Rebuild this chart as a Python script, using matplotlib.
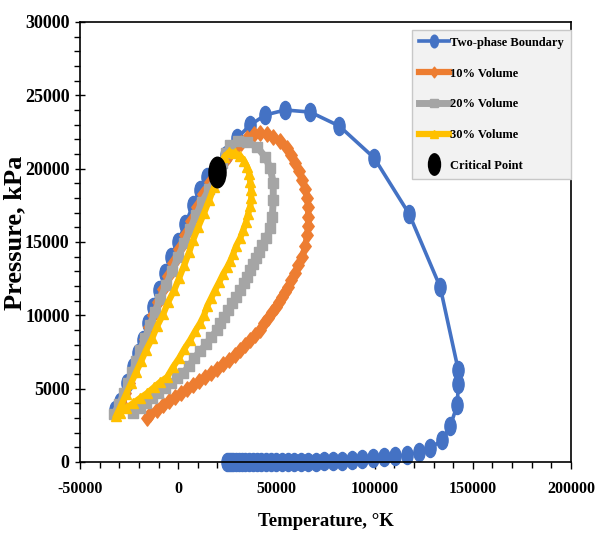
import matplotlib
matplotlib.use("Agg")
import matplotlib.pyplot as plt
from matplotlib.path import Path
from matplotlib.transforms import Affine2D
from matplotlib.ticker import MultipleLocator

plt.rcParams['font.family'] = ['Liberation Serif', 'DejaVu Serif']
plt.rcParams['font.weight'] = 'bold'
plt.rcParams['axes.unicode_minus'] = False

# ---- data (Temperature, Pressure) ----
boundary_T = [-32100, -29500, -26000, -22900, -20400, -17800, -15300, -12700, -9700, -6600,
              -3600, 0, 3600, 7600, 11200, 14800, 19900, 24400, 30000, 36700, 44300, 54500,
              67200, 82000, 99800, 117600, 133400, 142600, 142600, 142100, 138500, 134400,
              128300, 122700, 116600, 110500, 104900, 99300, 93700, 88600, 83500, 78900,
              74300, 70300, 66200, 62600, 59100, 56000, 53000, 49900, 47400, 44800, 42300,
              40200, 38200, 36200, 34100, 32600, 31100, 29500, 28000, 27000, 26000, 25000]
boundary_P = [3550, 4090, 5390, 6480, 7430, 8320, 9480, 10570, 11730, 12890,
              13980, 15000, 16230, 17520, 18550, 19430, 20040, 20930, 22090, 22980, 23660, 24000,
              23860, 22910, 20730, 16910, 11930, 6270, 5320, 3890, 2450, 1500,
              950, 680, 480, 400, 320, 250, 190, 140, 100, 70,
              50, 30, 20, 10, 0, 0, 0, 0, 0, 0, 0,
              0, 0, 0, 0, 0, 0, 0, 0, 0, 0, 0]

vol10_T = [-31100, -29000, -27000, -25000, -22900, -20900, -18800, -16800, -14800, -12700,
           -10200, -7600, -5100, -2600, 500, 3600, 6600, 9700, 12700, 16300, 20400, 24400,
           28500, 32100, 35100, 38700, 41800, 45300, 48400, 52000, 55500, 57500, 59600,
           61600, 63100, 64700, 65700, 66200, 66200, 66200, 65700, 64700, 63100, 61100,
           59600, 57500, 56000, 54500, 53000, 51400, 49900, 47900, 45800, 43800, 41800,
           39200, 36700, 34100, 31600, 29000, 26000, 22900, 19900, 16800, 13800, 10700,
           7600, 4600, 1500, -1500, -4600, -7600, -10700, -14300, -15800]
vol10_P = [3410, 4020, 4700, 5390, 6140, 6890, 7640, 8390, 9200, 10020,
           10910, 11800, 12680, 13570, 14520, 15480, 16430, 17390, 18270, 19090, 19910, 20660,
           21270, 21750, 22090, 22360, 22430, 22360, 22160, 21890, 21430, 20930, 20390,
           19840, 19230, 18610, 18000, 17390, 16700, 16090, 15480, 14730, 13980, 13430,
           12890, 12410, 11930, 11590, 11250, 10910, 10570, 10230, 9820, 9480, 9000,
           8660, 8320, 7980, 7640, 7300, 6950, 6680, 6340, 6070, 5800, 5520,
           5250, 4980, 4700, 4430, 4160, 3890, 3550, 3270, 3000]

vol20_T = [-32600, -30000, -27500, -25500, -23400, -21400, -19400, -16800, -14300, -11700,
           -9200, -6100, -3100, 0, 3100, 6100, 9200, 12200, 15800, 19400, 22400, 24400,
           26500, 30600, 35100, 40200, 44300, 46900, 48400, 48400, 47900, 46900, 44800,
           42800, 41300, 39700, 38200, 36700, 35100, 33600, 31600, 29500, 27500, 25500,
           23400, 21400, 19900, 16800, 14300, 11200, 8200, 5600, 2600, -500, -3600,
           -6600, -10200, -13200, -16300, -19400, -22900]
vol20_P = [3270, 3950, 4700, 5390, 6140, 6890, 7640, 8450, 9340, 10230,
           11110, 12070, 13020, 13980, 14930, 15890, 16840, 17730, 18610, 19430, 20390, 21070,
           21610, 21890, 21820, 21480, 20790, 20040, 19020, 17860, 16700, 15950, 15270,
           14800, 14320, 13910, 13500, 13090, 12610, 12200, 11730, 11250, 10840, 10360,
           9890, 9480, 9000, 8520, 8050, 7570, 7090, 6550, 6070, 5730, 5390,
           5050, 4700, 4360, 4020, 3680, 3340]

vol30_T = [-31600, -29000, -26500, -23900, -21400, -18800, -16300, -13200, -10700, -7600,
           -5100, -2000, 500, 3100, 5600, 7600, 10200, 13200, 15800, 18300, 19900, 21400,
           23400, 26000, 29000, 31600, 33600, 35100, 36200, 36700, 37200, 37200, 36700,
           35600, 34600, 33100, 31600, 29500, 28000, 26500, 25000, 22900, 20900, 18800,
           16800, 14800, 13200, 11200, 8700, 6100, 3100, 500, -2600, -5600, -9200,
           -12200, -15800, -19400, -22900, -26500, -29500]
vol30_P = [3140, 3890, 4640, 5390, 6140, 6890, 7640, 8450, 9270, 10090,
           10910, 11730, 12550, 13430, 14320, 15140, 16020, 16980, 17860, 18750, 19570, 20250,
           20800, 21140, 21070, 20860, 20520, 20110, 19640, 19090, 18540, 18000, 17450,
           16910, 16360, 15820, 15270, 14730, 14180, 13700, 13300, 12820, 12270, 11730,
           11180, 10640, 10020, 9480, 8930, 8320, 7700, 7090, 6480, 5800, 5450,
           5110, 4700, 4360, 4020, 3680, 3340]

critical_T = [20000]
critical_P = [19800]

series_labels = ['Two-phase Boundary', '10% Volume', '20% Volume', '30% Volume', 'Critical Point']
x_ticks = [-50000, 0, 50000, 100000, 150000, 200000]
y_ticks = [0, 5000, 10000, 15000, 20000, 25000, 30000]

# ---- styling ----
c_blue, c_orange, c_gray, c_yellow = '#4472C4', '#ED7D31', '#A5A5A5', '#FFC000'

def squeezed(path, sx):
    return path.transformed(Affine2D().scale(sx, 1.0))

ellipse = squeezed(Path.unit_circle(), 0.62)
crit_ellipse = squeezed(Path.unit_circle(), 0.56)
diamond = Path([(0, -1), (0.75, 0), (0, 1), (-0.75, 0), (0, -1)],
               [Path.MOVETO, Path.LINETO, Path.LINETO, Path.LINETO, Path.CLOSEPOLY])

fig = plt.figure(figsize=(5.95, 5.41), dpi=100)
ax = fig.add_axes([80 / 595, 1 - 462 / 541, (571 - 80) / 595, (462 - 22) / 541])

ax.plot(boundary_T, boundary_P, color=c_blue, lw=2.6, marker=ellipse, ms=13,
        label=series_labels[0], zorder=2, clip_on=False)
ax.plot(vol10_T, vol10_P, color=c_orange, lw=4.5, marker=diamond, ms=11,
        label=series_labels[1], zorder=3)
ax.plot(vol20_T, vol20_P, color=c_gray, lw=5, marker='s', ms=7.5,
        label=series_labels[2], zorder=4)
ax.plot(vol30_T, vol30_P, color=c_yellow, lw=4.5, marker='^', ms=7.5,
        label=series_labels[3], zorder=5)
ax.plot(critical_T, critical_P, ls='none', color='black', marker=crit_ellipse, ms=22,
        label=series_labels[4], zorder=6)

ax.set_xlim(-50000, 200000)
ax.set_ylim(0, 30000)
ax.set_xticks(x_ticks)
ax.set_yticks(y_ticks)
ax.xaxis.set_minor_locator(MultipleLocator(10000))
ax.yaxis.set_minor_locator(MultipleLocator(1000))
ax.tick_params(axis='both', which='major', length=5, width=1, color='black')
ax.tick_params(axis='x', which='major', labelsize=11.5)
ax.tick_params(axis='y', which='major', labelsize=13)
ax.tick_params(axis='x', which='both', direction='out')
ax.tick_params(axis='y', which='major', direction='inout', length=7)
ax.tick_params(axis='both', which='minor', direction='out', length=4, width=1)
ax.tick_params(axis='y', pad=4)
ax.tick_params(axis='x', pad=9)
for lab in ax.get_xticklabels() + ax.get_yticklabels():
    lab.set_fontweight('bold')

for s in ax.spines.values():
    s.set_color('black')
    s.set_linewidth(1.2)

ax.set_xlabel('Temperature, °K', fontsize=13.5, fontweight='bold', labelpad=11)
ax.set_ylabel('Pressure, kPa', fontsize=19, fontweight='bold')
ax.yaxis.set_label_coords(-0.11, 0.52)

leg = ax.legend(loc='upper right', bbox_to_anchor=(1.0, 0.982), borderaxespad=0,
                frameon=True, fancybox=False, framealpha=1,
                facecolor='#f2f2f2', edgecolor='#c8c8c8', numpoints=1, markerscale=0.7,
                handlelength=2.4, handletextpad=0.15, labelspacing=1.5,
                borderpad=0.55, prop={'weight': 'bold', 'size': 9})

fig.savefig('out.png', dpi=100)
